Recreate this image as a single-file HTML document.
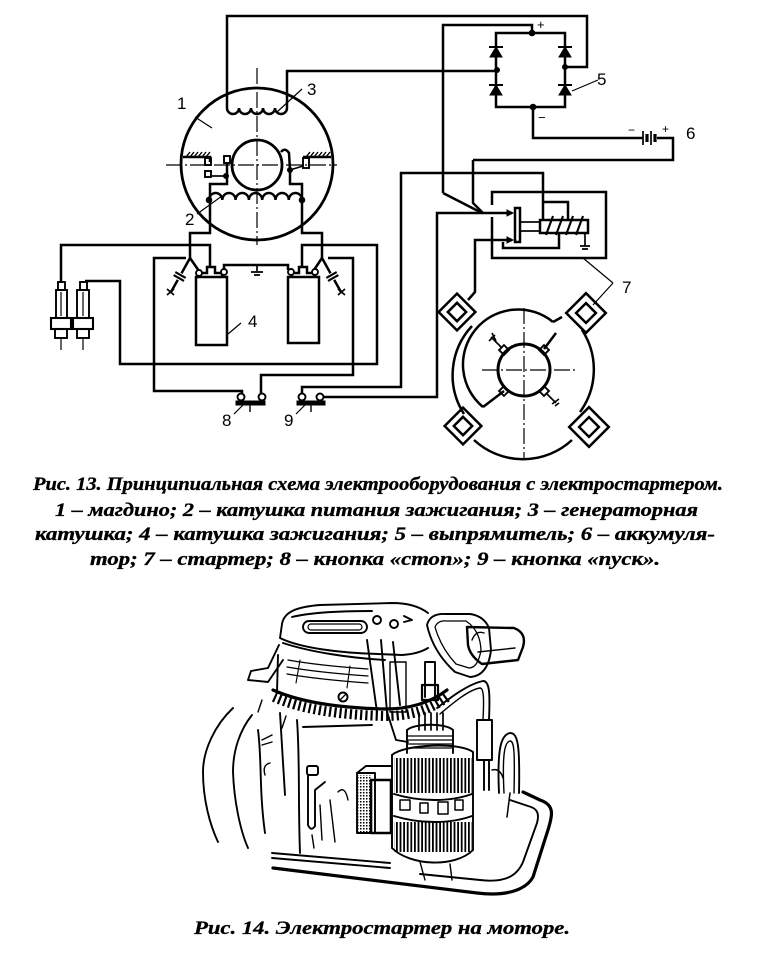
<!DOCTYPE html>
<html><head><meta charset="utf-8">
<style>
html,body{margin:0;padding:0;background:#fff;}
svg{display:block;}
</style></head><body>
<svg width="767" height="953" viewBox="0 0 767 953" xmlns="http://www.w3.org/2000/svg">
<defs>
<pattern id="vh" width="3.6" height="4" patternUnits="userSpaceOnUse"><rect x="0" y="0" width="1.8" height="4" fill="#000"/></pattern>
<pattern id="dots" width="3" height="3" patternUnits="userSpaceOnUse"><rect x="0" y="0" width="1.5" height="1.5" fill="#000"/></pattern>
</defs>
<rect width="767" height="953" fill="#fff"/>

<!-- ============ FIG 13 SCHEMATIC ============ -->
<g fill="none" stroke="#000" stroke-width="2.5">
  <circle cx="257" cy="164" r="76" stroke-width="2.8"/>
  <circle cx="257" cy="165" r="25" stroke-width="2.8"/>
  <path d="M183,157 H210 V162 M303,157 H331"/>
  <path d="M186,157 l4,-5 M190,157 l4,-5 M194,157 l4,-5 M198,157 l4,-5 M202,157 l4,-5 M206,157 l4,-5 M306,157 l4,-5 M310,157 l4,-5 M314,157 l4,-5 M318,157 l4,-5 M322,157 l4,-5 M326,157 l4,-5" stroke-width="1.4"/>
  <rect x="205" y="158" width="6" height="7" stroke-width="1.9"/>
  <rect x="205" y="171" width="6" height="6" stroke-width="1.9"/>
  <rect x="303" y="158" width="6" height="10" stroke-width="1.9"/>
  <rect x="224" y="156" width="6" height="7" stroke-width="1.9"/>
  <path d="M227,163 V184 H210 V233 H190 V258"/>
  <path d="M226,176 H212" stroke-width="1.7"/>
  <path d="M281,152 q4,-5 8,1 L290,170 V184 H302 V233 H322 V258"/>
  <path d="M290,170 L303,166" stroke-width="1.7"/>
  <path d="M227,108 a6,6 0 0 0 12,0 a6,6 0 0 0 12,0 a6,6 0 0 0 12,0 a6,6 0 0 0 12,0 a6,6 0 0 0 12,0"/>
  <path d="M209,200 a6.65,7 0 0 1 13.3,0 a6.65,7 0 0 1 13.3,0 a6.65,7 0 0 1 13.3,0 a6.65,7 0 0 1 13.3,0 a6.65,7 0 0 1 13.3,0 a6.65,7 0 0 1 13.3,0 a6.65,7 0 0 1 13.3,0"/>

  <path d="M227,108 V16 H587 V67 H565"/>
  <path d="M287,108 V71 H497"/>
  <path d="M61,283 V245 H210 V267"/>
  <path d="M85,281 H120 V364 H377 V245 H302 V267"/>
  <path d="M186,258 H154 V391 H242 V397"/>
  <path d="M328,258 H353 V375 H261 V397"/>
  <path d="M302,397 V387 H401 V173 H543 V220"/>
  <path d="M320,397 H437 V213 H512"/>
  <path d="M443,193 V25 H532 V33"/>
  <path d="M443,193 L482,213"/>
  <path d="M473,160 V203 L483,213"/>
  <path d="M473,160 H673 V138 H657"/>
  <path d="M643,138 H533 V107"/>
  <path d="M512,240 H475 V292 L468,300"/>

  <path d="M496,33 H565 V107 H496 Z"/>

  <path d="M643,131 V145 M651,131 V145" stroke-width="1.7"/>
  <path d="M647,134 V142 M655,134 V142" stroke-width="3.2"/>

  <path d="M492,205 V192 H606 V258 H492 V217"/>
  <path d="M543,202 H568 V220"/>
  <path d="M503,242 V248 H559 V233"/>
  <rect x="515" y="208" width="5" height="34"/>
  <rect x="520" y="222" width="20" height="9" stroke-width="1.7"/>
  <rect x="540" y="220" width="48" height="13"/>
  <path d="M546,235 L553,216 M556,235 L563,216 M566,235 L573,216 M576,235 L583,216" stroke-width="2.1"/>
  <path d="M585,233 V246 M580,246 H590 M582,249 H588" stroke-width="1.7"/>

  <rect x="58" y="282" width="7" height="8" stroke-width="1.9"/>
  <rect x="56" y="290" width="11" height="28" stroke-width="1.9"/>
  <rect x="51" y="318" width="20" height="11" stroke-width="2.1"/>
  <rect x="55" y="329" width="12" height="9" stroke-width="1.9"/>
  <path d="M61,338 V350 M61,292 V316" stroke-width="1.2"/>
  <rect x="80" y="282" width="7" height="8" stroke-width="1.9"/>
  <rect x="77" y="290" width="12" height="28" stroke-width="1.9"/>
  <rect x="73" y="318" width="20" height="11" stroke-width="2.1"/>
  <rect x="77" y="329" width="12" height="9" stroke-width="1.9"/>
  <path d="M83,338 V350 M83,292 V316" stroke-width="1.2"/>

  <rect x="196" y="277" width="31" height="68"/>
  <path d="M200,277 V273 H207 V267 H215 V273 H222 V277"/>
  <rect x="288" y="277" width="31" height="66"/>
  <path d="M292,277 V273 H299 V267 H307 V273 H314 V277"/>
  <path d="M224,270 V265 H288 V270"/>
  <path d="M257,265 V271 M251,272 H263 M254,275 H260" stroke-width="1.7"/>
  <path d="M190,258 L199,271 M322,258 L314,270"/>
  <path d="M190,258 L181.5,273.3 M177.8,279.9 L171,292"/>
  <path d="M175.3,272.1 L185.7,277.9 M173.6,275.1 L184,280.9" stroke-width="2.1"/>
  <path d="M167,289 l7,6 M167,295 l7,-6" stroke-width="1.7"/>
  <path d="M322,258 L330.5,273.3 M334.2,279.9 L341,292"/>
  <path d="M326.3,277.9 L336.7,272.1 M328,280.9 L338.4,275.1" stroke-width="2.1"/>
  <path d="M338,289 l7,6 M338,295 l7,-6" stroke-width="1.7"/>

  <circle cx="524" cy="370" r="26" stroke-width="3"/>
  <path d="M483,407 A55,55 0 0 1 553,322"/>
  <path d="M483,407 L504,391 M553,322 L562,317 M544,349 L556,333"/>
  <path d="M472,326 A72,72 0 0 0 464,414"/>
  <path d="M474,440 A72,72 0 0 0 572,440"/>
  <path d="M580,412 A72,72 0 0 0 582,330"/>
  <g transform="translate(457,312) rotate(45)"><rect x="-13" y="-13" width="26" height="26"/><rect x="-6.5" y="-6.5" width="13" height="13"/></g>
  <g transform="translate(586,313) rotate(45)"><rect x="-14" y="-14" width="28" height="28"/><rect x="-7" y="-7" width="14" height="14"/></g>
  <g transform="translate(463,426) rotate(45)"><rect x="-13" y="-13" width="26" height="26"/><rect x="-6.5" y="-6.5" width="13" height="13"/></g>
  <g transform="translate(589,427) rotate(45)"><rect x="-14" y="-14" width="28" height="28"/><rect x="-7" y="-7" width="14" height="14"/></g>
  <g stroke-width="1.9">
  <rect x="500.5" y="346.5" width="7" height="7" transform="rotate(45 504 350)"/>
  <rect x="540.5" y="346.5" width="7" height="7" transform="rotate(45 544 350)"/>
  <rect x="500.5" y="387.5" width="7" height="7" transform="rotate(45 504 391)"/>
  <rect x="540.5" y="387.5" width="7" height="7" transform="rotate(45 544 391)"/>
  </g>
  <path d="M501,347 L491,337 M489,341 l6,-6 M492,333 l4,8 M547,394 L556,403 M552,404 l7,-5 M555,406 l4,-3" stroke-width="1.6"/>
</g>

<g fill="none" stroke="#000" stroke-width="1.2">
  <path d="M257,68 V245 M166,165 H337" stroke-dasharray="16,3,2,3"/>
  <path d="M482,370 H577 M524,308 V458" stroke-dasharray="16,3,2,3"/>
  <path d="M195,117 L212,128 M302,89 L277,112 M197,214 L222,196 M228,334 L241,323 M234,414 L243,405 M296,414 L305,405 M598,80 L572,91"/>
  <path d="M613,283 L583,258 M613,283 L593,305"/>
</g>

<g fill="#000" stroke="#000">
  <polygon points="496,47 490,57 502,57"/><path d="M489,47 H503" stroke-width="2"/>
  <polygon points="496,85 490,95 502,95"/><path d="M489,85 H503" stroke-width="2"/>
  <polygon points="565,47 559,57 571,57"/><path d="M558,47 H572" stroke-width="2"/>
  <polygon points="565,85 559,95 571,95"/><path d="M558,85 H572" stroke-width="2"/>
  <circle cx="532" cy="33" r="2.8"/>
  <circle cx="497" cy="70" r="2.5"/>
  <circle cx="565" cy="67" r="2.5"/>
  <circle cx="533" cy="107" r="2.8"/>
  <circle cx="226" cy="176" r="2.5"/>
  <circle cx="290" cy="170" r="2.5"/>
  <circle cx="209" cy="200" r="2.8"/>
  <circle cx="302" cy="200" r="2.8"/>
  <polygon points="507,210 513,213 507,216"/>
  <polygon points="507,237 513,240 507,243"/>
  <rect x="236" y="401" width="29" height="4"/>
  <rect x="297" y="401" width="28" height="4"/>
</g>
<g fill="#fff" stroke="#000" stroke-width="1.9">
  <circle cx="199" cy="273" r="3"/>
  <circle cx="224" cy="272" r="3"/>
  <circle cx="291" cy="272" r="3"/>
  <circle cx="315" cy="272" r="3"/>
  <circle cx="241" cy="397" r="3.5"/>
  <circle cx="262" cy="397" r="3.5"/>
  <circle cx="302" cy="397" r="3.5"/>
  <circle cx="320" cy="397" r="3.5"/>
</g>
<path d="M250,405 V412 M311,405 V412" stroke="#000" stroke-width="1.4"/>

<g font-family="Liberation Sans, sans-serif" font-size="17" fill="#000">
  <text x="177" y="109">1</text>
  <text x="185" y="225">2</text>
  <text x="307" y="95">3</text>
  <text x="248" y="327">4</text>
  <text x="597" y="85">5</text>
  <text x="686" y="139">6</text>
  <text x="622" y="293">7</text>
  <text x="222" y="426">8</text>
  <text x="284" y="426">9</text>
  <text x="537" y="29" font-size="13">+</text>
  <text x="538" y="122" font-size="13">−</text>
  <text x="628" y="134" font-size="12">−</text>
  <text x="662" y="133" font-size="12">+</text>
</g>

<!-- captions fig 13 -->
<g font-family="Liberation Serif, 'DejaVu Serif', serif" font-weight="bold" font-style="italic" font-size="19" fill="#000" stroke="#000" stroke-width="0.35">
  <text x="33" y="490" textLength="690" lengthAdjust="spacingAndGlyphs">Рис. 13. Принципиальная схема электрооборудования с электростартером.</text>
  <text x="55" y="516" textLength="643" lengthAdjust="spacingAndGlyphs">1 – магдино; 2 – катушка питания зажигания; 3 – генераторная</text>
  <text x="35" y="540" textLength="680" lengthAdjust="spacingAndGlyphs">катушка; 4 – катушка зажигания; 5 – выпрямитель; 6 – аккумуля-</text>
  <text x="90" y="565" textLength="570" lengthAdjust="spacingAndGlyphs">тор; 7 – стартер; 8 – кнопка «стоп»; 9 – кнопка «пуск».</text>
</g>

<!-- ============ FIG 14 MOTOR DRAWING ============ -->
<g fill="none" stroke="#000" stroke-width="1.9" stroke-linejoin="round" stroke-linecap="round">
  <!-- top cap -->
  <path d="M282,624 C284,612 296,607 320,605 L392,603 Q415,603 428,613"/>
  <path d="M292,617 C312,612 345,611 372,611"/>
  <path d="M282,624 L280,638 C300,648 340,653 378,654 L402,655 Q418,654 428,648"/>
  <path d="M283,643 C310,652 350,658 385,660"/>
  <rect x="303" y="621" width="64" height="12" rx="6"/>
  <rect x="308" y="624" width="54" height="6" rx="3" stroke-width="1.2"/>
  <circle cx="377" cy="620" r="4"/>
  <circle cx="394" cy="624" r="4"/>
  <path d="M404,616 L412,620 L404,622"/>
  <!-- left arm hook -->
  <path d="M279,645 L268,668 L251,671 L248,680 L268,682 L283,660"/>
  <!-- flywheel cylinder -->
  <path d="M278,655 L277,692"/>
  <path d="M288,660 C310,664 340,667 368,669 M287,667 C310,671 340,674 368,676 M287,674 C310,678 340,681 368,683" stroke-width="1.3"/>
  <path d="M300,660 L296,683 M350,666 L347,688" stroke-width="1.1"/>
  <!-- gear ring -->
  <path d="M273,690 C300,702 340,708 385,709 C410,709 430,703 447,690" stroke-width="3.2"/>
  <path d="M274,697 C300,709 340,715 385,716 C410,716 430,710 447,697" stroke-width="10" stroke-dasharray="2.2,3" stroke-linecap="butt"/>
  <circle cx="343" cy="697" r="4.5"/>
  <path d="M340,700 L346,694" stroke-width="1.3"/>
  <!-- struts -->
  <path d="M367,640 L377,712 M381,640 L387,712 M393,642 L400,705 M387,712 L396,740 L408,742"/>
  <rect x="390" y="662" width="16" height="50" stroke-width="1.4"/>
  <!-- handle -->
  <path d="M427,625 Q430,613 446,614 L470,614 Q484,616 489,628 L491,650 Q488,676 470,677 L455,672 Q433,652 427,625 Z"/>
  <path d="M435,627 Q438,620 447,621 L466,621 Q480,630 481,650 Q478,668 469,668 L456,664 Q441,648 435,627 Z" stroke-width="1.3"/>
  <path d="M467,627 L514,628 Q527,633 523,647 L518,660 L482,664 Q470,656 468,645 Z" stroke-width="2.4"/>
  <path d="M472,640 Q476,630 484,633 M478,652 L515,648" stroke-width="1.4"/>
  <!-- inverted U cable -->
  <path d="M437,708 C450,698 468,684 483,681 C490,681 490,695 489,720"/>
  <path d="M440,714 C452,704 468,690 480,688 C484,688 484,700 483,720" stroke-width="1.4"/>
  <rect x="477" y="720" width="15" height="40"/>
  <path d="M484,760 V790 M489,760 V790"/>
  <!-- left body -->
  <path d="M280,713 L285,795 M297,720 C300,760 298,800 300,853"/>
  <path d="M258,730 C262,760 259,790 265,833"/>
  <path d="M303,727 L372,725"/>
  <path d="M262,740 L272,735 M262,745 L272,742 M265,775 Q262,765 270,763" stroke-width="1.4"/>
  <rect x="307" y="766" width="11" height="9" rx="2"/>
  <path d="M308,775 V825 Q311,832 315,826 V790 L325,782"/>
  <path d="M320,805 L322,840 M330,800 L335,842 M338,792 Q345,785 348,800 M312,835 L314,848" stroke-width="1.4"/>
  <!-- left cowling curves -->
  <path d="M233,708 C215,725 203,750 203,772 C203,800 210,825 218,842"/>
  <path d="M252,715 C240,730 233,750 233,772 C234,800 240,830 248,848"/>
  <path d="M262,700 L258,712 M286,716 L282,728" stroke-width="1.4"/>
  <!-- starter upper piece -->
  <path d="M425,697 V662 H435 V697"/>
  <rect x="422" y="685" width="16" height="15" stroke-width="2.2"/>
  <path d="M419,713 V730 M425,713 V730 M431,713 V730 M437,713 V730 M443,713 V730" stroke-width="1.7"/>
  <path d="M407,730 V753 M453,730 V753"/>
  <path d="M407,730 C415,723 446,723 453,730"/>
  <path d="M407,736 H453 M407,740 H453 M407,744 H453 M407,748 H453" stroke-width="1.2"/>
  <!-- starter main cylinder -->
  <path d="M392,755 V848 M473,752 V850"/>
  <path d="M392,755 C405,744 460,742 473,752"/>
  <path d="M392,848 C410,866 455,868 473,850"/>
  <path d="M394,794 C420,802 450,802 472,794 M394,816 C420,824 450,824 472,816"/>
  <path d="M400,800 h10 v10 h-10 z M420,803 h8 v10 h-8 z M438,802 h10 v12 h-10 z M455,800 h8 v10 h-8 z" stroke-width="1.5"/>
  <!-- side solenoid box -->
  <rect x="357" y="773" width="18" height="60"/>
  <rect x="371" y="780" width="20" height="53" stroke-width="2.6"/>
  <path d="M357,773 L366,766 H392"/>
  <!-- right U cable -->
  <path d="M499,793 C497,748 501,735 510,733 C518,733 520,745 519,793"/>
  <path d="M504,793 C502,752 505,742 510,741 C514,741 515,750 514,793" stroke-width="1.4"/>
  <path d="M507,817 L510,793 M492,770 Q500,768 503,778" stroke-width="1.5"/>
  <!-- base plate tray -->
  <path d="M273,868 L477,893 C510,897 527,888 533,877 L547,833 C553,815 555,805 540,800 L523,792" stroke-width="3.2"/>
  <path d="M272,853 L390,863 M272,858 L390,868"/>
  <path d="M420,874 L480,880 C505,883 517,876 523,862 L537,823 C540,812 536,808 528,806 L510,800"/>
  <path d="M420,862 L425,880 M450,864 L452,880" stroke-width="1.4"/>
</g>
<rect x="394" y="758" width="78" height="35" fill="url(#vh)"/>
<rect x="394" y="822" width="78" height="30" fill="url(#vh)"/>
<rect x="358" y="775" width="13" height="57" fill="url(#dots)"/>

<!-- caption fig 14 -->
<text x="194" y="934" textLength="376" lengthAdjust="spacingAndGlyphs" font-family="Liberation Serif, 'DejaVu Serif', serif" font-weight="bold" font-style="italic" font-size="19" fill="#000" stroke="#000" stroke-width="0.3">Рис. 14. Электростартер на моторе.</text>
</svg>
</body></html>
